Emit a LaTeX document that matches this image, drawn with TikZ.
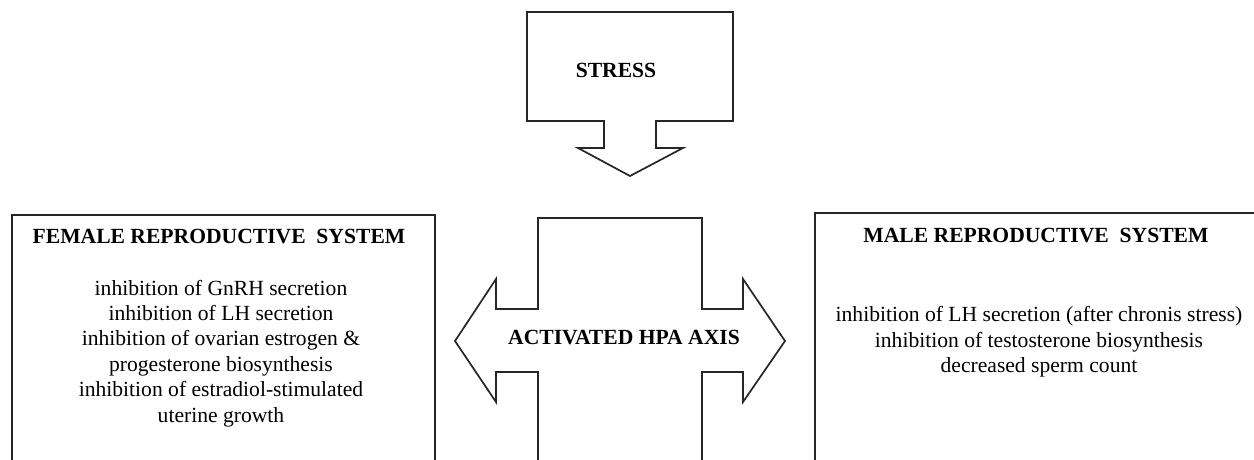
\documentclass[tikz,border=0pt]{standalone}
\usepackage{fontspec}
\setmainfont{Liberation Serif}
\begin{document}
\begin{tikzpicture}[x=1pt,y=-1pt,
  outline/.style={draw=black!85, line width=1.7pt, line join=miter},
  head/.style={font=\fontsize{21.6}{25.4}\selectfont\bfseries, inner sep=0pt},
  body/.style={font=\fontsize{21.6}{25.4}\selectfont, align=center, inner sep=0pt}]
\useasboundingbox (0,0) rectangle (1254,459);

% stress callout with its downward arrow
\draw[outline] (527,12) -- (733,12) -- (733,121) -- (656,121) -- (656,148)
  -- (683,148) -- (630,176) -- (578,148) -- (604,148) -- (604,121)
  -- (527,121) -- cycle;

% HPA axis block with arrows to both sides
\draw[outline] (538,461) -- (538,372) -- (496,372) -- (496,402) -- (455,341)
  -- (496,279) -- (496,309) -- (538,309) -- (538,218) -- (702,218)
  -- (702,309) -- (743,309) -- (743,279) -- (785,341) -- (743,402)
  -- (743,372) -- (702,372) -- (702,461);

% female and male panels
\draw[outline] (12,461) -- (12,215) -- (435,215) -- (435,461);
\draw[outline] (815,461) -- (815,213) -- (1256,213);

% labels
\node[head, anchor=base] (stress) at (616,77) {STRESS};
\node[head, anchor=base] (hpa) at (624,344) {ACTIVATED HPA AXIS};
\node[head, anchor=base] (femhead) at (219,243) {FEMALE REPRODUCTIVE\ \ SYSTEM};
\node[head, anchor=base] (malehead) at (1036,242) {MALE REPRODUCTIVE\ \ SYSTEM};

\node[body] (fembody) at (221,353.4) {inhibition of GnRH secretion\\
  inhibition of LH secretion\\
  inhibition of ovarian estrogen \&\\
  progesterone biosynthesis\\
  inhibition of estradiol-stimulated\\
  uterine growth};
\node[body] (malebody) at (1039,342) {inhibition of LH secretion (after chronis stress)\\
  inhibition of testosterone biosynthesis\\
  decreased sperm count};
\end{tikzpicture}
\end{document}
